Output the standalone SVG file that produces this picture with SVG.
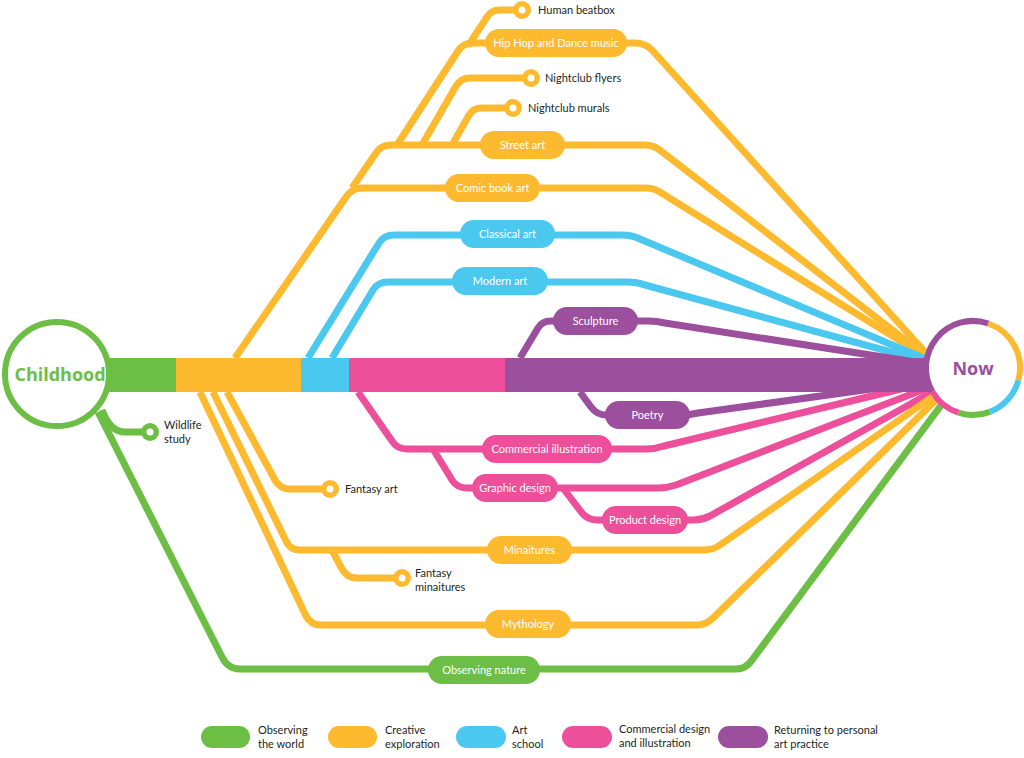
<svg xmlns="http://www.w3.org/2000/svg" width="1024" height="758" viewBox="0 0 1024 758">
<style>
.t{fill:none;stroke-width:7;stroke-linejoin:round;stroke-linecap:butt}
.g{stroke:#6CBE45}.o{stroke:#FDBA2F}.b{stroke:#4BC8EF}.p{stroke:#EE4F9A}.v{stroke:#9C4F9C}
.fg{fill:#6CBE45}.fo{fill:#FDBA2F}.fb{fill:#4BC8EF}.fp{fill:#EE4F9A}.fv{fill:#9C4F9C}
.pl{font-family:Lato,"Open Sans",sans-serif;font-size:11px;fill:#fff;text-anchor:middle}
.lb{font-family:Lato,"Open Sans",sans-serif;font-size:11px;fill:#231F20}
.big{font-family:"Open Sans","Noto Sans",sans-serif;font-size:18px;font-weight:bold;text-anchor:middle}
.dot{fill:#fff}
</style>
<g id="connectors">
<path class="t o" d="M235 358 L346 197 Q352 188 362 188 L646 188 Q655 188 663 194 L928 358"/>
<path class="t o" d="M352 188 L376 153 Q381 145 391 145 L645 145 Q654 145 661 151 L926 356"/>
<path class="t o" d="M397 145 L458 51 Q463 43 473 43 L635 43 Q645 43 652 50 L925 352"/>
<path class="t o" d="M468 46 L487 17 Q491 10 500 10 L522 10"/>
<path class="t o" d="M422 145 L456 86 Q461 78 470 78 L531 78"/>
<path class="t o" d="M452 145 L469 115 Q473 108 482 108 L513 108"/>
<path class="t b" d="M308 358 L379 243 Q384 235 394 235 L622 235 Q632 235 640 239 L928 360"/>
<path class="t b" d="M332 358 L373 290 Q378 282 388 282 L628 282 Q637 282 645 285 L928 362"/>
<path class="t v" d="M520 358 L538 328 Q542 321 551 321 L648 321 Q657 321 665 323 L928 364"/>
<path class="t v" d="M580 392 L591 407 Q597 415 606 415 L682 415 Q690 415 698 413 L900 385"/>
<path class="t p" d="M358 392 L392 441 Q397 449 407 449 L646 449 Q655 449 664 446 L930 382"/>
<path class="t p" d="M433 449 L452 480 Q457 488 467 488 L658 488 Q667 488 676 485 L930 387"/>
<path class="t p" d="M563 488 L582 513 Q588 520 597 520 L694 520 Q702 520 710 516 L932 392"/>
<path class="t o" d="M227 392 L275 480 Q280 489 290 489 L330 489"/>
<path class="t o" d="M213 392 L286 541 Q290 550 300 550 L704 550 Q713 550 720 545 L935 395"/>
<path class="t o" d="M332 550 L342 569 Q347 578 357 578 L402 578"/>
<path class="t o" d="M200 392 L306 616 Q311 625 321 625 L697 625 Q706 625 713 618 L938 398"/>
<path class="t g" d="M98 412 L222 657 Q228 669 240 669 L736 669 Q746 669 752 660 L945 400"/>
<path class="t g" d="M102 410 Q110 432 125 432 L150 432"/>
</g>
<g id="timeline">
<rect x="100" y="358" width="77" height="34" class="fg"/>
<rect x="176" y="358" width="126" height="34" class="fo"/>
<rect x="301" y="358" width="49" height="34" class="fb"/>
<rect x="349" y="358" width="157" height="34" class="fp"/>
<rect x="505" y="358" width="435" height="34" class="fv"/>
</g>
<g id="childhood">
<circle cx="57" cy="374" r="52" fill="#fff" stroke="#6CBE45" stroke-width="6"/>
<text x="60" y="381" class="big" fill="#6CBE45">Childhood</text>
</g>
<g id="now">
<circle cx="973" cy="368" r="47" fill="#fff"/>
<g fill="none" stroke-width="6">
<path class="v" d="M932.3 391.5 A47 47 0 0 1 988.3 323.5"/>
<path class="o" d="M988.3 323.5 A47 47 0 0 1 1018.4 380.2"/>
<path class="b" d="M1018.4 380.2 A47 47 0 0 1 989.8 411.9"/>
<path class="g" d="M989.8 411.9 A47 47 0 0 1 958.5 412.7"/>
<path class="p" d="M958.5 412.7 A47 47 0 0 1 932.3 391.5"/>
</g>
<text x="973" y="375" class="big" fill="#9C4F9C">Now</text>
</g>
<g id="hiphop"><rect x="485" y="29" width="142" height="28" rx="14" class="fo"/><text x="556" y="47" class="pl">Hip Hop and Dance music</text></g>
<g id="streetart"><rect x="480" y="131" width="85" height="28" rx="14" class="fo"/><text x="522.5" y="149" class="pl">Street art</text></g>
<g id="comic"><rect x="445" y="174" width="95" height="28" rx="14" class="fo"/><text x="492.5" y="192" class="pl">Comic book art</text></g>
<g id="classical"><rect x="460" y="220" width="95" height="28" rx="14" class="fb"/><text x="507.5" y="238" class="pl">Classical art</text></g>
<g id="modern"><rect x="452" y="267" width="96" height="28" rx="14" class="fb"/><text x="500" y="285" class="pl">Modern art</text></g>
<g id="sculpture"><rect x="553" y="307" width="85" height="28" rx="14" class="fv"/><text x="595.5" y="325" class="pl">Sculpture</text></g>
<g id="poetry"><rect x="605" y="401" width="85" height="28" rx="14" class="fv"/><text x="647.5" y="419" class="pl">Poetry</text></g>
<g id="commercial"><rect x="482" y="435" width="130" height="28" rx="14" class="fp"/><text x="547" y="453" class="pl">Commercial illustration</text></g>
<g id="graphic"><rect x="472" y="474" width="86" height="28" rx="14" class="fp"/><text x="515" y="492" class="pl">Graphic design</text></g>
<g id="product"><rect x="602" y="506" width="86" height="28" rx="14" class="fp"/><text x="645" y="524" class="pl">Product design</text></g>
<g id="minaitures"><rect x="487" y="536" width="85" height="28" rx="14" class="fo"/><text x="529.5" y="554" class="pl">Minaitures</text></g>
<g id="mythology"><rect x="485" y="610" width="86" height="28" rx="14" class="fo"/><text x="528" y="628" class="pl">Mythology</text></g>
<g id="nature"><rect x="428" y="656" width="112" height="28" rx="14" class="fg"/><text x="484" y="674" class="pl">Observing nature</text></g>
<g id="beatbox"><circle cx="522" cy="10" r="9" class="fo"/><circle cx="522" cy="10" r="3.5" class="dot"/><text x="538" y="14" class="lb">Human beatbox</text></g>
<g id="flyers"><circle cx="531" cy="78" r="9" class="fo"/><circle cx="531" cy="78" r="3.5" class="dot"/><text x="545" y="82" class="lb">Nightclub flyers</text></g>
<g id="murals"><circle cx="513" cy="108" r="9" class="fo"/><circle cx="513" cy="108" r="3.5" class="dot"/><text x="528" y="112" class="lb">Nightclub murals</text></g>
<g id="wildlife"><circle cx="150" cy="432" r="9" class="fg"/><circle cx="150" cy="432" r="3.5" class="dot"/><text x="164" y="429" class="lb">Wildlife</text><text x="164" y="443" class="lb">study</text></g>
<g id="fantasyart"><circle cx="330" cy="489" r="9" class="fo"/><circle cx="330" cy="489" r="3.5" class="dot"/><text x="345" y="493" class="lb">Fantasy art</text></g>
<g id="fantasymin"><circle cx="402" cy="578" r="9" class="fo"/><circle cx="402" cy="578" r="3.5" class="dot"/><text x="415" y="577" class="lb">Fantasy</text><text x="415" y="591" class="lb">minaitures</text></g>
<g id="legend">
<rect x="201" y="726" width="49" height="22" rx="11" class="fg"/><text x="258" y="734" class="lb">Observing</text><text x="258" y="748" class="lb">the world</text>
<rect x="328" y="726" width="49" height="22" rx="11" class="fo"/><text x="385" y="734" class="lb">Creative</text><text x="385" y="748" class="lb">exploration</text>
<rect x="456" y="726" width="50" height="22" rx="11" class="fb"/><text x="512" y="734" class="lb">Art</text><text x="512" y="748" class="lb">school</text>
<rect x="562" y="726" width="50" height="22" rx="11" class="fp"/><text x="619" y="733" class="lb">Commercial design</text><text x="619" y="747" class="lb">and illustration</text>
<rect x="718" y="726" width="50" height="22" rx="11" class="fv"/><text x="774" y="734" class="lb">Returning to personal</text><text x="774" y="748" class="lb">art practice</text>
</g>
</svg>
